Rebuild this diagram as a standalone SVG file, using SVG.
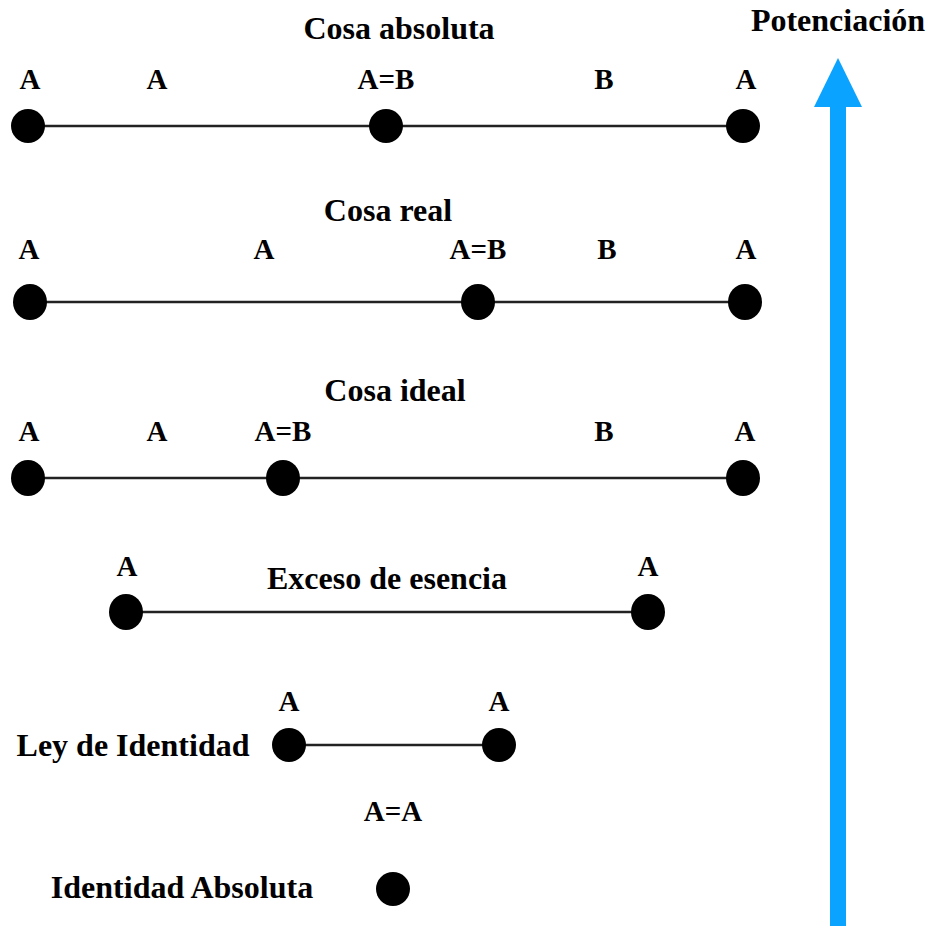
<svg xmlns="http://www.w3.org/2000/svg" width="929" height="926" viewBox="0 0 929 926">
  <style>
    .title { font-family: "Liberation Serif", "Times New Roman", serif; font-weight: bold; font-size: 32px; fill: #000; text-anchor: middle; }
    .lbl { font-family: "Liberation Serif", "Times New Roman", serif; font-weight: bold; font-size: 29px; fill: #000; text-anchor: middle; }
    .edge { stroke: #222; stroke-width: 2.5; fill: none; }
    .dot { fill: #000; }
    .arrow { fill: #0aa3ff; }
  </style>
  <rect width="929" height="926" fill="#fff"/>

  <!-- connectors -->
  <g id="connectors">
    <line class="edge" x1="28" y1="126" x2="743" y2="126"/>
    <line class="edge" x1="30" y1="302" x2="745" y2="302"/>
    <line class="edge" x1="28" y1="478" x2="743" y2="478"/>
    <line class="edge" x1="126" y1="612" x2="648" y2="612"/>
    <line class="edge" x1="289" y1="745" x2="499" y2="745"/>
  </g>

  <!-- Potenciación arrow -->
  <g id="potenciacion">
    <text class="title" x="838" y="31">Potenciación</text>
    <rect class="arrow" x="830" y="104" width="16" height="822"/>
    <polygon class="arrow" points="838,58 862,107 814,107"/>
  </g>

  <!-- Cosa absoluta -->
  <g id="cosa-absoluta">
    <text class="title" x="399" y="39">Cosa absoluta</text>
    <text class="lbl" x="30" y="89">A</text>
    <text class="lbl" x="157" y="89">A</text>
    <text class="lbl" x="386" y="89">A=B</text>
    <text class="lbl" x="604" y="89">B</text>
    <text class="lbl" x="746" y="89">A</text>
    <circle class="dot" cx="28" cy="126" r="17"/>
    <circle class="dot" cx="386" cy="126" r="17"/>
    <circle class="dot" cx="743" cy="126" r="17"/>
  </g>

  <!-- Cosa real -->
  <g id="cosa-real">
    <text class="title" x="388" y="221">Cosa real</text>
    <text class="lbl" x="29" y="259">A</text>
    <text class="lbl" x="264" y="259">A</text>
    <text class="lbl" x="478" y="259">A=B</text>
    <text class="lbl" x="607" y="259">B</text>
    <text class="lbl" x="746" y="259">A</text>
    <ellipse class="dot" cx="30" cy="302" rx="17" ry="18"/>
    <ellipse class="dot" cx="478" cy="302" rx="17" ry="18"/>
    <ellipse class="dot" cx="745" cy="302" rx="17" ry="18"/>
  </g>

  <!-- Cosa ideal -->
  <g id="cosa-ideal">
    <text class="title" x="395" y="401">Cosa ideal</text>
    <text class="lbl" x="29" y="441">A</text>
    <text class="lbl" x="157" y="441">A</text>
    <text class="lbl" x="283" y="441">A=B</text>
    <text class="lbl" x="604" y="441">B</text>
    <text class="lbl" x="745" y="441">A</text>
    <ellipse class="dot" cx="28" cy="478" rx="17" ry="18"/>
    <ellipse class="dot" cx="283" cy="478" rx="17" ry="18"/>
    <ellipse class="dot" cx="743" cy="478" rx="17" ry="18"/>
  </g>

  <!-- Exceso de esencia -->
  <g id="exceso-de-esencia">
    <text class="lbl" x="127" y="576">A</text>
    <text class="title" x="387" y="589">Exceso de esencia</text>
    <text class="lbl" x="648" y="576">A</text>
    <ellipse class="dot" cx="126" cy="612" rx="17" ry="18"/>
    <ellipse class="dot" cx="648" cy="612" rx="17" ry="18"/>
  </g>

  <!-- Ley de Identidad -->
  <g id="ley-de-identidad">
    <text class="title" x="133" y="756">Ley de Identidad</text>
    <text class="lbl" x="289" y="711">A</text>
    <text class="lbl" x="499" y="711">A</text>
    <circle class="dot" cx="289" cy="745" r="17"/>
    <circle class="dot" cx="499" cy="745" r="17"/>
  </g>

  <!-- A=A -->
  <g id="a-igual-a">
    <text class="lbl" x="393" y="821">A=A</text>
  </g>

  <!-- Identidad Absoluta -->
  <g id="identidad-absoluta">
    <text class="title" x="182" y="898">Identidad Absoluta</text>
    <circle class="dot" cx="393" cy="889" r="17"/>
  </g>
</svg>
